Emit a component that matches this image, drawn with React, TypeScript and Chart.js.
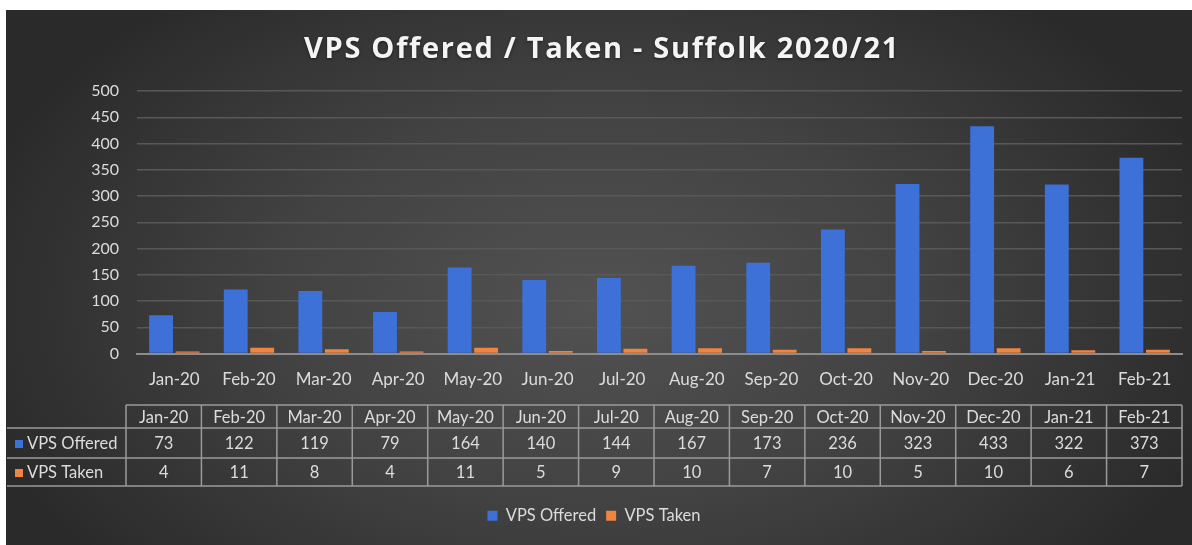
import React, { useEffect, useRef } from "react";
import { Chart, registerables } from "chart.js";

Chart.register(...registerables);

const categories = ["Jan-20", "Feb-20", "Mar-20", "Apr-20", "May-20", "Jun-20", "Jul-20", "Aug-20", "Sep-20", "Oct-20", "Nov-20", "Dec-20", "Jan-21", "Feb-21"];
const vpsOffered = [73, 122, 119, 79, 164, 140, 144, 167, 173, 236, 323, 433, 322, 373];
const vpsTaken = [4, 11, 8, 4, 11, 5, 9, 10, 7, 10, 5, 10, 6, 7];
const seriesNames = ["VPS Offered", "VPS Taken"];
const titleText = "VPS Offered / Taken - Suffolk 2020/21";
const yMin = 0;
const yMax = 500;
const yStep = 50;

const BLUE = "#3d71d8";
const ORANGE = "#ee8540";
const TEXT = "#dcdcdc";
const FONT = "Lato";

const bgPlugin = {
  id: "bgPlugin",
  beforeDraw(chart: any) {
    const { ctx, width, height } = chart;
    ctx.save();
    ctx.fillStyle = "#2a2a2a";
    ctx.fillRect(0, 0, width, height);
    ctx.translate(width / 2, height * 0.55);
    ctx.scale(1, 0.62);
    const g = ctx.createRadialGradient(0, 0, 0, 0, 0, width * 0.55);
    g.addColorStop(0, "#525252");
    g.addColorStop(0.5, "#424242");
    g.addColorStop(1, "#2a2a2a");
    ctx.fillStyle = g;
    ctx.fillRect(-width, -height * 2, width * 2, height * 4);
    ctx.restore();
  },
};

const titlePlugin = {
  id: "titlePlugin",
  afterDraw(chart: any) {
    const { ctx, width } = chart;
    ctx.save();
    ctx.font = `bold 29px "Open Sans"`;
    (ctx as any).letterSpacing = "1.7px";
    ctx.fillStyle = "#f4f4f4";
    ctx.textAlign = "center";
    ctx.textBaseline = "middle";
    ctx.shadowColor = "rgba(0,0,0,0.5)";
    ctx.shadowBlur = 3;
    ctx.shadowOffsetY = 1;
    ctx.fillText(titleText, width / 2 + 3, 40);
    ctx.restore();
  },
};

const tablePlugin = {
  id: "tablePlugin",
  afterDraw(chart: any) {
    const { ctx, chartArea } = chart;
    const left = 120;
    const right = chartArea.right;
    const n = categories.length;
    const cw = (right - left) / n;
    const rows = [395, 418, 448, 476];
    const labelLeft = 1;
    ctx.save();
    ctx.strokeStyle = "#9a9a9a";
    ctx.lineWidth = 1.5;
    ctx.beginPath();
    ctx.moveTo(left, rows[0]);
    ctx.lineTo(right, rows[0]);
    for (let r = 1; r < rows.length; r++) {
      ctx.moveTo(labelLeft, rows[r]);
      ctx.lineTo(right, rows[r]);
    }
    for (let i = 0; i <= n; i++) {
      const x = left + i * cw;
      ctx.moveTo(x, rows[0]);
      ctx.lineTo(x, rows[3]);
    }
    ctx.stroke();

    ctx.fillStyle = TEXT;
    ctx.font = `16.5px ${FONT}`;
    ctx.textAlign = "center";
    ctx.textBaseline = "middle";
    const data = [categories, vpsOffered, vpsTaken];
    for (let r = 0; r < 3; r++) {
      const cy = (rows[r] + rows[r + 1]) / 2 + 1;
      for (let i = 0; i < n; i++) {
        ctx.fillText(String(data[r][i]), left + (i + 0.5) * cw, cy);
      }
    }
    const colors = [BLUE, ORANGE];
    ctx.textAlign = "left";
    ctx.font = `16.5px ${FONT}`;
    for (let r = 0; r < 2; r++) {
      const cy = (rows[r + 1] + rows[r + 2]) / 2 + 1;
      ctx.fillStyle = colors[r];
      ctx.fillRect(9, cy - 4, 8, 8);
      ctx.fillStyle = TEXT;
      ctx.fillText(seriesNames[r], 21, cy);
    }
    ctx.restore();
  },
};

export default function App() {
  const ref = useRef<HTMLCanvasElement>(null);
  useEffect(() => {
    document.body.style.margin = "0";
    const chart = new Chart(ref.current as HTMLCanvasElement, {
      type: "bar",
      data: {
        labels: categories,
        datasets: [
          { label: seriesNames[0], data: vpsOffered, backgroundColor: BLUE, barPercentage: 0.9, categoryPercentage: 0.71 },
          { label: seriesNames[1], data: vpsTaken, backgroundColor: ORANGE, barPercentage: 0.9, categoryPercentage: 0.71 },
        ],
      },
      options: {
        responsive: false,
        animation: false,
        layout: { padding: { left: 0, right: 10, top: 81, bottom: 11 } },
        plugins: {
          title: { display: false },
          legend: {
            position: "bottom",
            labels: { color: TEXT, font: { family: FONT, size: 16.5 }, boxWidth: 10, boxHeight: 10, padding: 10 },
          },
          tooltip: { enabled: false },
        },
        scales: {
          x: {
            grid: { display: false },
            border: { display: true, color: "#8c8c8c", width: 2 },
            ticks: { color: TEXT, font: { family: FONT, size: 17 }, padding: 8, maxRotation: 0 },
            afterFit: (scale: any) => { scale.height = 144; },
          },
          y: {
            min: yMin,
            max: yMax,
            grid: { color: "#585858", lineWidth: 1.5, drawTicks: false },
            border: { display: false },
            ticks: { stepSize: yStep, color: TEXT, font: { family: FONT, size: 16 }, padding: 18 },
            afterFit: (scale: any) => { scale.width = 131; },
          },
        },
      },
      plugins: [bgPlugin, tablePlugin, titlePlugin],
    });
    return () => chart.destroy();
  }, []);
  return (
    <div style={{ position: "relative", width: 1192, height: 545, background: "#fff" }}>
      <canvas ref={ref} width={1186} height={535} style={{ position: "absolute", left: 6, top: 10, display: "block" }} />
    </div>
  );
}
